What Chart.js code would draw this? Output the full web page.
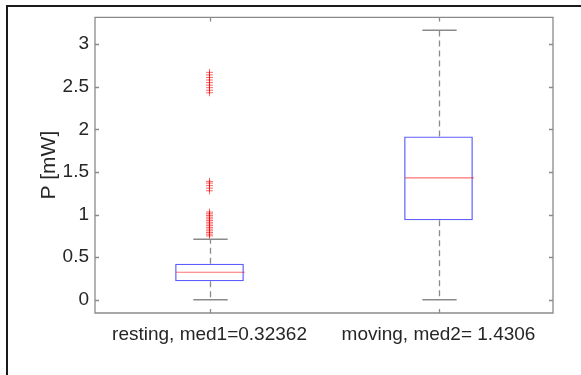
<!DOCTYPE html>
<html>
<head>
<meta charset="utf-8">
<script src="https://cdn.jsdelivr.net/npm/chart.js@4/dist/chart.umd.min.js"></script>
<style>
    body { margin: 0; background: #fff; }
    #wrap { position: relative; width: 581px; height: 375px; }
    #frame { position: absolute; left: 6px; top: 5px; right: 0; bottom: 0; border-top: 2px solid #1a1a1a; border-left: 2px solid #1a1a1a; pointer-events: none; }
</style>
</head>
<body>
<div id="wrap">
    <canvas id="chart" width="581" height="375"></canvas>
    <div id="frame"></div>
</div>
<script>
const categories = ['resting, med1=0.32362', 'moving, med2= 1.4306'];
const q1 = [0.218, 0.934];
const medians = [0.32362, 1.4306];
const q3 = [0.424, 1.918];
const whiskerLow = [0, 0];
const whiskerHigh = [0.712, 3.163];
const restingOutliers = [
    0.75, 0.77, 0.79, 0.81, 0.83, 0.85, 0.87, 0.89, 0.91, 0.93, 0.95, 0.97, 0.99, 1.01, 1.03,
    1.28, 1.31, 1.34, 1.37, 1.39,
    2.43, 2.46, 2.49, 2.52, 2.55, 2.58, 2.61, 2.64, 2.67
];
const yTicks = [0, 0.5, 1, 1.5, 2, 2.5, 3];

const axisColor = '#8a8a8a';
const textColor = '#262626';

// medians, dashed whiskers, caps and the matlab-style box around the axes
const boxExtras = {
    id: 'boxExtras',
    afterDatasetsDraw(chart) {
        const { ctx, scales: { x, y }, chartArea } = chart;
        const meta = chart.getDatasetMeta(0);
        ctx.save();
        categories.forEach((c, i) => {
            const bar = meta.data[i];
            const cx = Math.round(bar.x) + 0.5;
            const half = bar.width / 2;

            ctx.strokeStyle = 'rgba(255, 0, 0, 0.55)';
            ctx.lineWidth = 1.2;
            ctx.beginPath();
            const ym = y.getPixelForValue(medians[i]);
            ctx.moveTo(cx - half, ym);
            ctx.lineTo(cx + half, ym);
            ctx.stroke();

            ctx.strokeStyle = axisColor;
            ctx.lineWidth = 1.3;
            ctx.setLineDash([6, 4]);
            ctx.beginPath();
            ctx.moveTo(cx, y.getPixelForValue(q3[i]));
            ctx.lineTo(cx, y.getPixelForValue(whiskerHigh[i]));
            ctx.moveTo(cx, y.getPixelForValue(q1[i]));
            ctx.lineTo(cx, y.getPixelForValue(whiskerLow[i]));
            ctx.stroke();
            ctx.setLineDash([]);

            ctx.lineWidth = 1.5;
            ctx.beginPath();
            [whiskerHigh[i], whiskerLow[i]].forEach(v => {
                const yy = y.getPixelForValue(v);
                ctx.moveTo(cx - half / 2, yy);
                ctx.lineTo(cx + half / 2, yy);
            });
            ctx.stroke();
        });

        const { left, right, top, bottom } = chartArea;
        ctx.strokeStyle = axisColor;
        ctx.lineWidth = 1.3;
        ctx.beginPath();
        ctx.rect(left, top, right - left, bottom - top);
        yTicks.forEach(v => {
            const yy = Math.round(y.getPixelForValue(v)) + 0.5;
            ctx.moveTo(left, yy); ctx.lineTo(left + 4, yy);
            ctx.moveTo(right, yy); ctx.lineTo(right - 4, yy);
        });
        categories.forEach((c, i) => {
            const xx = Math.round(x.getPixelForValue(i)) + 0.5;
            ctx.moveTo(xx, bottom); ctx.lineTo(xx, bottom - 4);
            ctx.moveTo(xx, top); ctx.lineTo(xx, top + 4);
        });
        ctx.stroke();
        ctx.restore();
    }
};

new Chart(document.getElementById('chart'), {
    type: 'bar',
    data: {
        labels: categories,
        datasets: [{
            data: categories.map((c, i) => [q1[i], q3[i]]),
            backgroundColor: 'rgba(0,0,0,0)',
            borderColor: 'rgba(40, 40, 255, 0.75)',
            borderWidth: 1.3,
            borderSkipped: false,
            barPercentage: 0.3,
            categoryPercentage: 1,
            grouped: false
        }, {
            type: 'scatter',
            data: restingOutliers.map(v => ({ x: categories[0], y: v })),
            pointStyle: 'cross',
            pointRadius: 3.5,
            pointBorderWidth: 1,
            borderColor: 'rgba(255, 0, 0, 0.6)',
            backgroundColor: 'rgba(255, 0, 0, 0.6)'
        }]
    },
    options: {
        responsive: false,
        animation: false,
        layout: { padding: { top: 16, right: 28, left: 0, bottom: 0 } },
        plugins: { legend: { display: false }, tooltip: { enabled: false } },
        scales: {
            x: {
                type: 'category',
                offset: true,
                grid: { display: false, drawTicks: false },
                border: { display: false },
                ticks: { color: textColor, font: { family: 'Liberation Sans, Arial', size: 19 }, padding: 10, maxRotation: 0 },
                afterFit: s => { s.height = 62; }
            },
            y: {
                min: -0.155,
                max: 3.315,
                grid: { display: false, drawTicks: false },
                border: { display: false },
                afterBuildTicks: s => { s.ticks = yTicks.map(v => ({ value: v })); },
                ticks: { color: textColor, font: { family: 'Liberation Sans, Arial', size: 19 }, padding: 6, callback: v => String(v) },
                title: { display: true, text: 'P [mW]', color: textColor, font: { family: 'Liberation Sans, Arial', size: 21 }, padding: { top: 37 } },
                afterFit: s => { s.width = 95; }
            }
        }
    },
    plugins: [boxExtras]
});
</script>
</body>
</html>
